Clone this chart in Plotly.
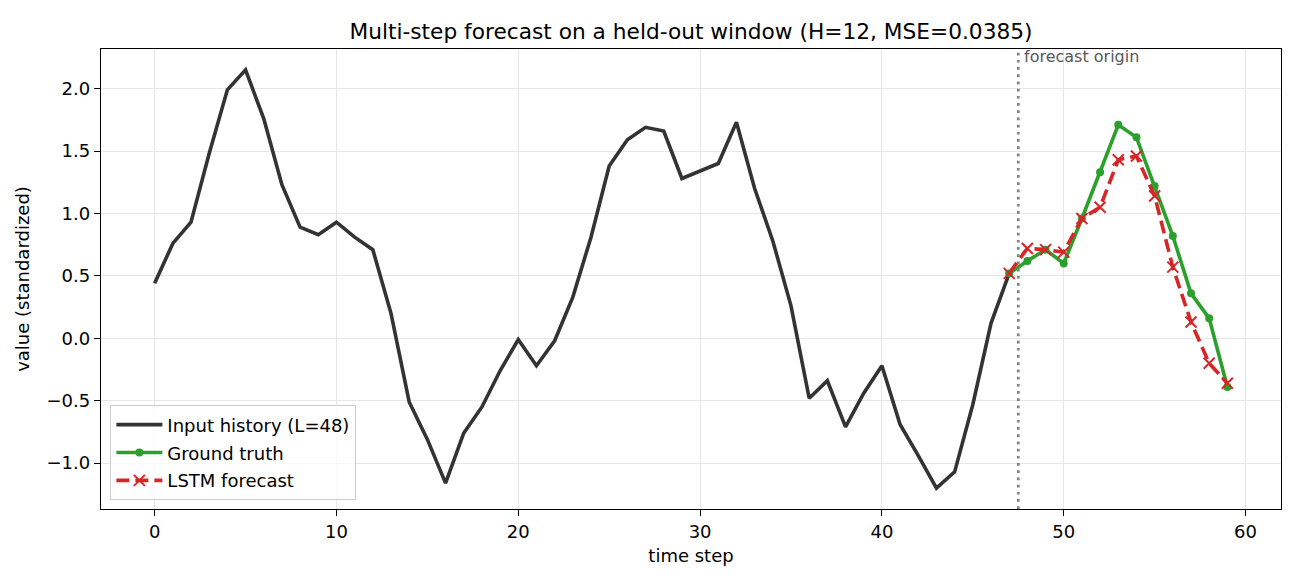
import plotly.graph_objects as go

# ---------------- data ----------------
hist_x = list(range(0, 48))
hist_y = [0.44, 0.76, 0.93, 1.48, 1.99, 2.15, 1.76, 1.23, 0.89, 0.83,
          0.93, 0.81, 0.71, 0.20, -0.51, -0.81, -1.16, -0.76, -0.55, -0.26,
          -0.01, -0.22, -0.02, 0.33, 0.81, 1.38, 1.59, 1.69, 1.66, 1.28,
          1.34, 1.40, 1.73, 1.20, 0.78, 0.26, -0.48, -0.34, -0.71, -0.44,
          -0.22, -0.69, -0.94, -1.20, -1.07, -0.53, 0.12, 0.52]

fc_x = list(range(47, 60))
truth_y = [0.52, 0.62, 0.71, 0.60, 0.96, 1.33, 1.71, 1.61, 1.22, 0.82,
           0.36, 0.16, -0.39]
lstm_y = [0.52, 0.72, 0.71, 0.69, 0.96, 1.05, 1.43, 1.46, 1.14, 0.57,
          0.13, -0.20, -0.36]

origin_x = 47.5
x_ticks = [0, 10, 20, 30, 40, 50, 60]
y_ticks = [-1.0, -0.5, 0.0, 0.5, 1.0, 1.5, 2.0]

FONT = "DejaVu Sans"

fig = go.Figure()
fig.add_trace(go.Scatter(x=hist_x, y=hist_y, mode="lines",
                         name="Input history (L=48)", legendgroup="a",
                         line=dict(color="#333333", width=3.6)))
fig.add_trace(go.Scatter(x=fc_x, y=truth_y, mode="lines+markers",
                         name="Ground truth", legendgroup="b",
                         line=dict(color="#2ca02c", width=3.6),
                         marker=dict(symbol="circle", size=8, color="#2ca02c")))
fig.add_trace(go.Scatter(x=fc_x, y=lstm_y, mode="lines+markers",
                         name="LSTM forecast", legendgroup="c",
                         line=dict(color="#d62728", width=3.6, dash="13px,6px"),
                         marker=dict(symbol="x-thin", size=11,
                                     line=dict(color="#d62728", width=2))))

fig.add_shape(type="line", xref="x", yref="paper", x0=origin_x, x1=origin_x,
              y0=0, y1=1, line=dict(color="#808080", width=2.7, dash="2.7px,4.5px"))
fig.add_annotation(x=origin_x + 0.2, y=1, xref="x", yref="paper",
                   text="forecast origin", showarrow=False,
                   xanchor="left", yanchor="top", yshift=4,
                   font=dict(family=FONT, size=16, color="#595959"))

axis_common = dict(showline=True, linecolor="black", linewidth=1.4, mirror=True,
                   ticks="outside", ticklen=6, tickwidth=1.4, tickcolor="black",
                   showgrid=True, gridcolor="#e6e6e6", gridwidth=1.4,
                   zeroline=False, tickfont=dict(family=FONT, size=18, color="black"))

fig.update_layout(
    width=1300, height=585,
    margin=dict(l=101, r=19, t=49, b=76),
    paper_bgcolor="white", plot_bgcolor="white",
    font=dict(family=FONT, size=18, color="black"),
    title=dict(text="Multi-step forecast on a held-out window (H=12, MSE=0.0385)",
               x=0.5, xref="paper", xanchor="center", y=1 - 31 / 585, yanchor="middle",
               font=dict(family=FONT, size=21.7, color="black")),
    xaxis=dict(range=[-2.95, 61.95], tickvals=x_ticks,
               title=dict(text="time step", standoff=8,
                          font=dict(family=FONT, size=18)), **axis_common),
    yaxis=dict(range=[-1.3675, 2.3175], tickvals=y_ticks, tickformat=".1f",
               title=dict(text="value (standardized)", standoff=12,
                          font=dict(family=FONT, size=18)), **axis_common),
    legend=dict(x=0.0076, y=0.0196, xanchor="left", yanchor="bottom",
                bgcolor="rgba(255,255,255,0.8)", bordercolor="#cccccc", borderwidth=1.4,
                itemwidth=46, tracegroupgap=1.5,
                font=dict(family=FONT, size=18, color="black")),
    showlegend=True,
)

fig.write_html("out.html")
